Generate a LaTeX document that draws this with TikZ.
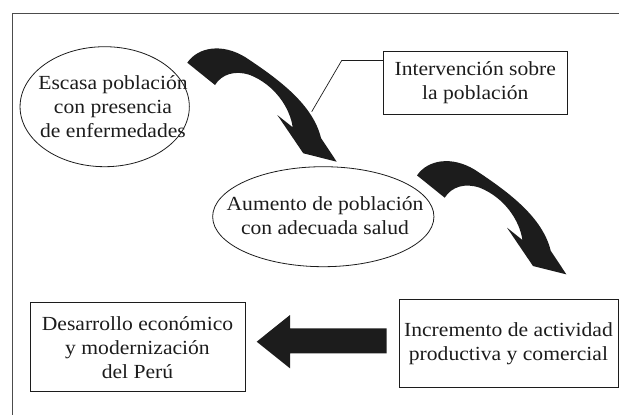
\documentclass[tikz,border=0pt]{standalone}
\usepackage{fontspec}
\setmainfont[FakeStretch=1.08]{Liberation Serif}
\usetikzlibrary{shapes.geometric}
\definecolor{ink}{HTML}{1C1C1C}
\tikzset{
  txt/.style={align=center, text=ink, font=\fontsize{20}{24}\selectfont, inner sep=0pt},
  boxnode/.style={draw=ink, line width=0.9pt, rectangle, inner sep=0pt, align=center, text=ink, font=\fontsize{20}{24}\selectfont},
  ellnode/.style={draw=ink, line width=0.8pt, ellipse, inner sep=0pt},
  framestyle/.style={draw=black!70, line width=1pt},
  blockarrow/.style={fill=ink, draw=none},
  leader/.style={draw=ink, line width=0.7pt}
}
\begin{document}
\begin{tikzpicture}[x=1pt, y=-1pt]
\useasboundingbox (0,0) rectangle (619,415);
% outer frame (only top and left visible)
\draw[framestyle] (12.3,415) -- (12.3,13.3) -- (619,13.3);

% ellipses
\node[ellnode, minimum width=169.3pt, minimum height=120pt] (e1) at (104.7,106.7) {};
\node[txt] (t1) at (113,106.5) {Escasa población\\con presencia\\de enfermedades};
\node[ellnode, minimum width=221.3pt, minimum height=100pt] (e2) at (323.3,216.7) {};
\node[txt] (t2) at (325,216) {Aumento de población\\con adecuada salud};

% boxes
\node[boxnode, minimum width=184pt, minimum height=62.3pt] (iv) at (475.3,82.9) {Intervención sobre\\la población};
\node[boxnode, minimum width=215pt, minimum height=89pt] (de) at (137.5,347.2) {Desarrollo económico\\y modernización\\del Perú};
\node[boxnode, minimum width=219pt, minimum height=88pt] (inc) at (508.5,343.3) {Incremento de actividad\\productiva y comercial};

% curved arrows (same shape, second one shifted)
\def\curvedarrow{(187.3,62.7) .. controls (198,47) and (222,43) .. (245,57)
  .. controls (280,80) and (313,105) .. (321,138)
  -- (336.7,161.7) -- (303.3,153.3) -- (277.3,115) -- (292.7,127.3)
  .. controls (290,108) and (275,85) .. (250,75)
  .. controls (235,70) and (222,74) .. (215,85) -- cycle}
\fill[blockarrow] \curvedarrow;
\begin{scope}[shift={(229.7,112.7)}]
\fill[blockarrow] \curvedarrow;
\end{scope}

% leader line from the intervention box to the first arrow
\coordinate (kink) at (341.7,60.5);
\coordinate (onarrow) at (311.7,111.7);
\draw[leader] (iv.north west |- kink) -- (kink) -- (onarrow);

% straight block arrow from Incremento to Desarrollo
\coordinate (tipL) at (256.7,341.7);
\fill[blockarrow] (tipL) -- (290,315) -- (290,328.3) -- (386.7,328.3) -- (386.7,353.3) -- (290,353.3) -- (290,368.3) -- cycle;
\end{tikzpicture}
\end{document}
